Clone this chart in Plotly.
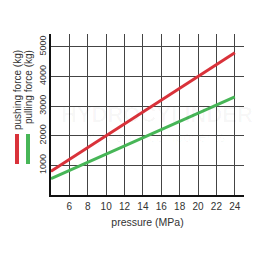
import plotly.graph_objects as go

pressure = [4, 24]
pushing_kg = [800, 4800]
pulling_kg = [552, 3312]
x_ticks = [6, 8, 10, 12, 14, 16, 18, 20, 22, 24]
y_ticks = [1000, 2000, 3000, 4000, 5000]

RED = "#d9323a"
GREEN = "#47b657"
FONT = "Liberation Sans, Arial, sans-serif"

fig = go.Figure()
fig.add_trace(go.Scatter(x=pressure, y=pushing_kg, mode="lines",
                         line=dict(color=RED, width=3), showlegend=False))
fig.add_trace(go.Scatter(x=pressure, y=pulling_kg, mode="lines",
                         line=dict(color=GREEN, width=3), showlegend=False))

fig.update_layout(
    width=259, height=259,
    margin=dict(l=51, r=15, t=34, b=64),
    paper_bgcolor="white", plot_bgcolor="white",
    font=dict(family=FONT, color="#333", size=10),
    xaxis=dict(range=[4, 25], tickvals=x_ticks, ticktext=[str(v) for v in x_ticks],
               showgrid=True, gridcolor="#444", gridwidth=1,
               showline=True, linecolor="#111", linewidth=1.5,
               zeroline=False, ticks="outside", ticklen=1, tickcolor="rgba(0,0,0,0)",
               tickfont=dict(size=10, color="#333"),
               title=dict(text="pressure (MPa)", font=dict(size=10.5, color="#333"), standoff=8)),
    yaxis=dict(range=[0, 5430], tickvals=y_ticks, ticktext=[str(v) for v in y_ticks],
               tickangle=-90, showgrid=True, gridcolor="#444", gridwidth=1,
               showline=True, linecolor="#111", linewidth=1.5,
               zeroline=False, ticks="", ticklabelstandoff=0,
               tickfont=dict(size=9, color="#333")),
)

# watermark (very faint)
fig.add_annotation(xref="paper", yref="paper", x=0.55, y=0.50, text="<b>HYDROCYLINDER</b>",
                   showarrow=False, font=dict(size=22, color="rgba(0,0,0,0.03)"))
fig.add_annotation(xref="paper", yref="paper", x=0.55, y=0.36, text="hydraulic components",
                   showarrow=False, font=dict(size=14, color="rgba(0,0,0,0.03)"))

# axis titles (two stacked rotated labels)
fig.add_annotation(xref="paper", yref="paper", x=(17-51)/193, y=(195-48)/161,
                   xanchor="center", yanchor="top", textangle=-90, showarrow=False,
                   text="pushing force (kg)", font=dict(size=10, color="#333"))
fig.add_annotation(xref="paper", yref="paper", x=(28-51)/193, y=(195-48)/161,
                   xanchor="center", yanchor="top", textangle=-90, showarrow=False,
                   text="pulling force (kg)", font=dict(size=10, color="#333"))

# legend swatches
fig.add_shape(type="rect", xref="paper", yref="paper",
              x0=(15-51)/193, x1=(19-51)/193, y0=(195-164)/161, y1=(195-134)/161,
              fillcolor=RED, line=dict(width=0))
fig.add_shape(type="rect", xref="paper", yref="paper",
              x0=(26-51)/193, x1=(30-51)/193, y0=(195-164)/161, y1=(195-134)/161,
              fillcolor=GREEN, line=dict(width=0))

fig.write_html("out.html")
